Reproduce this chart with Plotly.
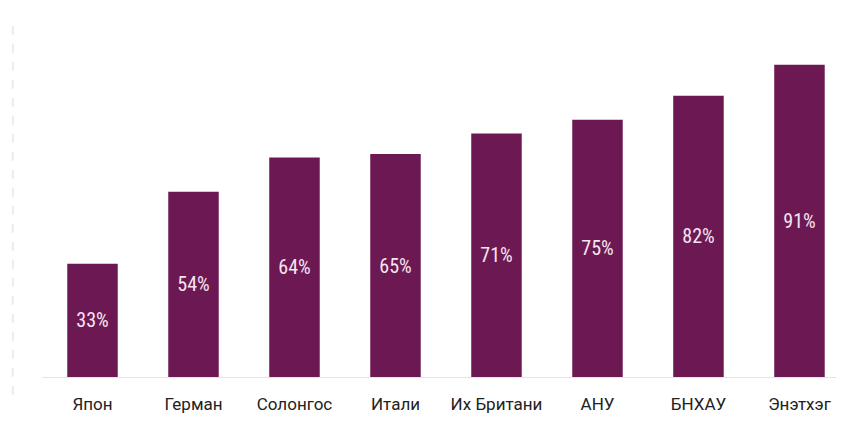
import plotly.graph_objs as go

# Data
countries = ["Япон", "Герман", "Солонгос", "Итали", "Их Британи", "АНУ", "БНХАУ", "Энэтхэг"]
shares = [33, 54, 64, 65, 71, 75, 82, 91]
labels = [f"{v}%" for v in shares]

bar_color = "#6c1953"
label_font = "Roboto, sans-serif"
value_font = "Roboto Condensed, Roboto, sans-serif"

fig = go.Figure()
fig.add_trace(go.Bar(
    x=countries,
    y=shares,
    text=labels,
    textposition="inside",
    insidetextanchor="middle",
    textangle=0,
    textfont=dict(family=value_font, size=20, color="#f6e4f1"),
    marker=dict(color=bar_color, line=dict(width=0)),
    hoverinfo="x+y",
))

# page body adds 8px margin, margins are set to land the plot where the scan has it
fig.update_layout(
    width=844,
    height=425,
    margin=dict(l=34, r=0, t=26, b=56),
    paper_bgcolor="white",
    plot_bgcolor="white",
    bargap=0.5,
    showlegend=False,
    font=dict(family=label_font, size=17, color="#222222"),
)

fig.update_xaxes(
    showgrid=False,
    showline=True,
    linecolor="#e4e4e4",
    linewidth=1,
    ticks="",
    ticklabelstandoff=12,
    tickfont=dict(family=label_font, size=17, color="#222222"),
    range=[-0.5, 7.52],
)
fig.update_yaxes(
    range=[0, 100],
    showgrid=False,
    showticklabels=False,
    zeroline=False,
    showline=False,
)

# faint dashed left rule as in the scan
fig.add_shape(
    type="line", xref="paper", yref="paper",
    x0=-0.036, x1=-0.036, y0=-0.052, y1=1.04,
    line=dict(color="#ececec", width=2, dash="dash"),
)

fig.write_html("out.html")
